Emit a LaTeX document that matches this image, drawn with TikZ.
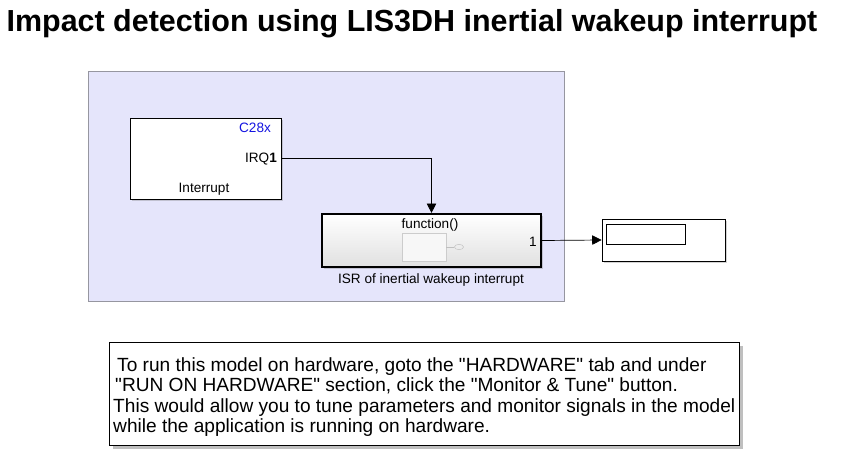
\documentclass[tikz,border=0pt]{standalone}
\usepackage{fontspec}
\setmainfont{Liberation Sans}
\usetikzlibrary{arrows.meta,shadows,shapes.geometric}
\definecolor{subsys}{RGB}{229,229,251}
\definecolor{subline}{RGB}{150,150,160}
\definecolor{tagblue}{RGB}{20,20,225}
\newcommand{\qt}{\textquotedbl}
\begin{document}
\begin{tikzpicture}[
            x=0.03cm, y=-0.03cm,
            area/.style={fill=subsys, draw=subline, line width=0.6pt},
            block/.style={draw=black, fill=white, line width=0.7pt,
                drop shadow={shadow xshift=1.5pt, shadow yshift=-1.5pt, opacity=0.35}},
            isrblock/.style={draw=black, line width=1.8pt, top color=white, bottom color=black!12,
                drop shadow={shadow xshift=1.5pt, shadow yshift=-1.5pt, opacity=0.35}},
            signal/.style={draw=black, line width=0.6pt, -{Triangle[length=8pt, width=8pt]}},
            lbl/.style={font=\fontsize{11.6}{13}\selectfont},
            note/.style={draw=black, fill=white, line width=0.7pt,
                drop shadow={shadow xshift=3pt, shadow yshift=-3pt, opacity=0.5}}
        ]
            \useasboundingbox (0, 0) rectangle (841, 472);
            % title
            \node (title) at (412, 24) {\fontsize{26}{30}\selectfont\bfseries Impact detection using LIS3DH inertial wakeup interrupt};
            % subsystem area
            \node[area, minimum width=14.28cm, minimum height=6.9cm] (sub) at (326, 186) {};
            % blocks
            \node[block, minimum width=4.53cm, minimum height=2.43cm] (intr) at (205.5, 158.5) {};
            \node[lbl, text=tagblue] (c28x) at (255, 128) {C28x};
            \node[lbl] (irq) at (261, 159) {IRQ\textbf{1}};
            \node[lbl] (intrname) at (204, 189) {Interrupt};
            \node[isrblock, minimum width=6.57cm, minimum height=1.59cm] (isr) at (431.5, 240.5) {};
            \node[lbl] (fcn) at (430, 225) {function()};
            \node[draw=black!20, fill=black!3, minimum width=1.32cm, minimum height=0.84cm] (inner) at (424, 247) {};
            \node[draw=black!25, ellipse, inner sep=0pt, minimum width=0.27cm, minimum height=0.16cm] (trig) at (459, 247) {};
            \draw[black!25] (inner.east) -- (trig.west);
            \node[lbl] (outone) at (533, 242) {1};
            \node[lbl] (isrname) at (431, 280) {ISR of inertial wakeup interrupt};
            \node[block, minimum width=3.69cm, minimum height=1.26cm] (disp) at (663.5, 240) {};
            \node[draw=black, line width=0.7pt, minimum width=2.37cm, minimum height=0.6cm] (dispval) at (645.5, 234) {};
            % signals
            \draw[signal] (intr.east) -| (isr.north);
            \draw[signal] (isr.east) -- (disp.west);
            % note
            \node[note, minimum width=18.9cm, minimum height=3.09cm] (notebox) at (424, 393.5) {};
            \node[anchor=west, align=left, font=\fontsize{16.3}{17.6}\selectfont, inner sep=0pt] (notetext) at (113, 397)
                {\hspace*{0.12cm}To run this model on hardware, goto the \qt HARDWARE\qt{} tab and under\\
                 \hspace*{0.06cm}\qt RUN ON HARDWARE\qt{} section, click the \qt Monitor \& Tune\qt{} button.\\
                 This would allow you to tune parameters and monitor signals in the model\\
                 while the application is running on hardware.};
        \end{tikzpicture}
\end{document}
